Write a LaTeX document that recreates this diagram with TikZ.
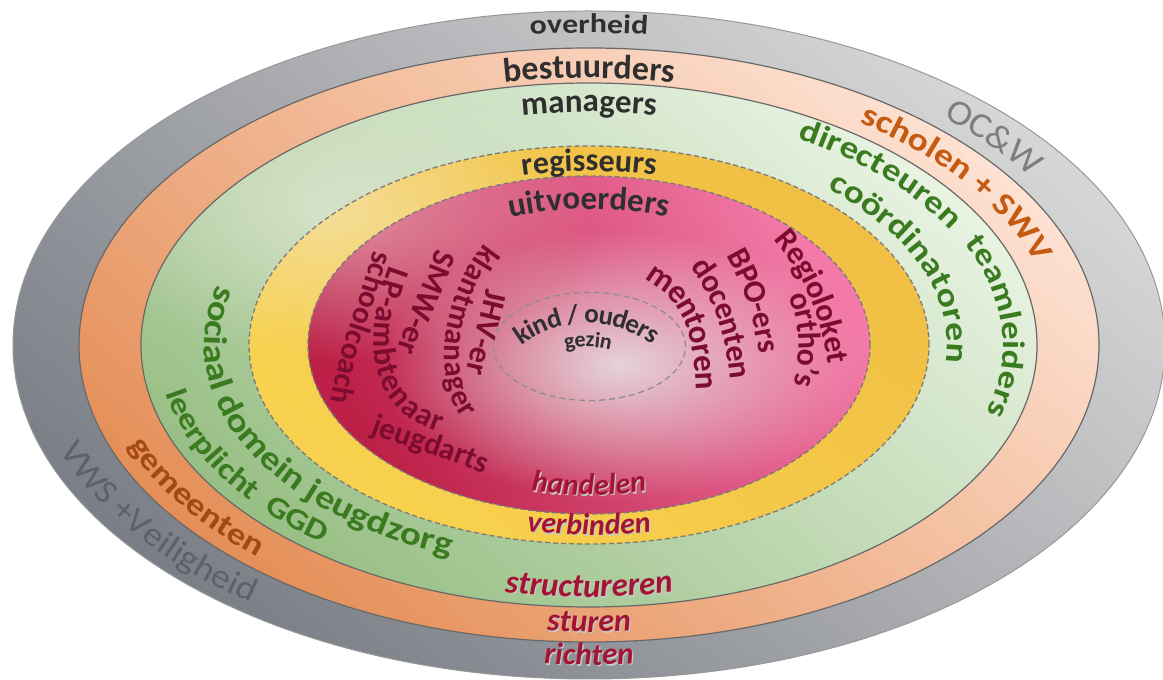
\documentclass[tikz,border=0pt]{standalone}
\usepackage{fontspec}
\usetikzlibrary{decorations.text,fadings}
\newfontfamily\fcarl{Carlito}
\newfontfamily\fcarlS{Carlito}[FakeStretch=1.18]
\newfontfamily\fcarlR{Carlito}[FakeStretch=1.1]
\newcommand\fTB[1]{\fcarl\bfseries\fontsize{#1}{#1}\selectfont}
\newcommand\fTS[1]{\fcarlS\bfseries\fontsize{#1}{#1}\selectfont}
\newcommand\fTR[1]{\fcarlR\fontsize{#1}{#1}\selectfont}
\newcommand\fTI[1]{\fcarl\bfseries\itshape\fontsize{#1}{#1}\selectfont}
\definecolor{cGrayTop}{HTML}{D6D6D6}
\definecolor{cGrayBot}{HTML}{7A7E86}
\definecolor{cOrTop}{HTML}{FDE1D2}
\definecolor{cOrBot}{HTML}{E58F58}
\definecolor{cGrTop}{HTML}{E8F3E2}
\definecolor{cGrBot}{HTML}{98BF85}
\definecolor{cYeTop}{HTML}{F0BF44}
\definecolor{cYeBot}{HTML}{F8D24E}
\definecolor{cPkTop}{HTML}{F37AA8}
\definecolor{cPkBot}{HTML}{BC2047}
\definecolor{cLine}{HTML}{686868}
\definecolor{cDash}{HTML}{7A7A7A}
\definecolor{cDark}{HTML}{2F2F2F}
\definecolor{cGrayA}{HTML}{7E7E7E}
\definecolor{cGrayB}{HTML}{5E6168}
\definecolor{cOrT}{HTML}{C55A11}
\definecolor{cOrT2}{HTML}{A44A10}
\definecolor{cGrT}{HTML}{3A7B20}
\definecolor{cMar}{HTML}{7B0C30}
\definecolor{cIt}{HTML}{A31434}
\definecolor{cHigh}{HTML}{E6E2E2}
\definecolor{cBeige}{HTML}{F4F0E6}
\tikzfading[name=blobfade, inner color=transparent!0, outer color=transparent!100]
% text on an ellipse arc around the common centre
\newcommand\eltext[7][]{\path[#1,decorate,decoration={text along path,#2,text={#7}}]
  ([shift={(#5:#3pt and #4pt)}]589,335) arc[start angle=#5,end angle=#6,x radius=#3pt,y radius=#4pt];}
\tikzset{
  ring/.style={draw=cLine, line width=1.2pt},
  dring/.style={draw=cDash, line width=1.3pt, dash pattern=on 5pt off 3pt},
  shadowtext/.style={shift={(1.2pt,-1.2pt)}}
}
\begin{document}
\begin{tikzpicture}[x=1pt,y=1pt]
\useasboundingbox (0,0) rectangle (1163,680);
% bands
\shade[top color=cGrayTop, bottom color=cGrayBot, shading angle=-40, draw=cGrayA!80, line width=1pt]
  (589,335) ellipse[x radius=576pt, y radius=334pt];
\shade[top color=cOrTop, bottom color=cOrBot, shading angle=-40]
  (589,335) ellipse[x radius=510pt, y radius=297pt];
\shade[top color=cGrTop, bottom color=cGrBot, shading angle=-40]
  (589,335) ellipse[x radius=448pt, y radius=262pt];
\shade[top color=cYeTop, bottom color=cYeBot, shading angle=-40]
  (589,335) ellipse[x radius=340pt, y radius=199pt];
\shade[top color=cPkTop, bottom color=cPkBot, shading angle=-60]
  (589,335) ellipse[x radius=281pt, y radius=169pt];
% highlights
\begin{scope}
  \clip (589,335) ellipse[x radius=448pt, y radius=262pt];
  \fill[cBeige, fill opacity=0.5, path fading=blobfade] (330,470) ellipse[x radius=260pt, y radius=150pt];
\end{scope}
\begin{scope}
  \clip (589,335) ellipse[x radius=281pt, y radius=169pt];
  \fill[cHigh, fill opacity=0.9, path fading=blobfade] (620,315) ellipse[x radius=240pt, y radius=135pt];
\end{scope}
% borders
\draw[ring] (589,335) ellipse[x radius=510pt, y radius=297pt];
\draw[ring] (589,335) ellipse[x radius=448pt, y radius=262pt];
\draw[dring] (589,335) ellipse[x radius=340pt, y radius=199pt];
\draw[dring] (589,335) ellipse[x radius=281pt, y radius=169pt];
\draw[dring, draw=cDash!85, dash pattern=on 6pt off 4pt] (589.5,333.5) ellipse[x radius=96pt, y radius=54pt];
% top labels
\eltext{text align=center,text color=cDark}{537}{312}{120}{60}{|\fTS{27}|overheid}
\eltext{text align=center,text color=cDark}{457}{267}{125}{55}{|\fTB{34}|bestuurders}
\eltext{text align=center,text color=cDark}{398}{233}{125}{55}{|\fTB{33}|managers}
\eltext{text align=center,text color=cDark}{291}{174}{130}{50}{|\fTB{32}|regisseurs}
\eltext{text align=center,text color=cDark}{226}{136}{130}{50}{|\fTB{33}|uitvoerders}
% bottom labels
\eltext[shadowtext]{text align=center,text color=black!22}{249}{150}{240}{300}{|\fTI{30}|handelen}
\eltext{text align=center,text color=cIt}{249}{150}{240}{300}{|\fTI{30}|handelen}
\eltext[shadowtext]{text align=center,text color=black!22}{322}{190}{240}{300}{|\fTI{30}|verbinden}
\eltext{text align=center,text color=cIt}{322}{190}{240}{300}{|\fTI{30}|verbinden}
\eltext[shadowtext]{text align=center,text color=black!22}{431}{252}{240}{300}{|\fTI{33}|structureren}
\eltext{text align=center,text color=cIt}{431}{252}{240}{300}{|\fTI{33}|structureren}
\eltext[shadowtext]{text align=center,text color=black!22}{492}{287}{250}{290}{|\fTI{32}|sturen}
\eltext{text align=center,text color=cIt}{492}{287}{250}{290}{|\fTI{32}|sturen}
\eltext[shadowtext]{text align=center,text color=black!22}{552}{320}{250}{290}{|\fTI{31}|richten}
\eltext{text align=center,text color=cIt}{552}{320}{250}{290}{|\fTI{31}|richten}
% right side labels
\eltext{text color=cGrayA}{529}{306}{48}{0}{|\fTR{35}|OC{\&}W}
\eltext{text color=cOrT}{468}{272}{54.7}{0}{|\fTS{32}|scholen + SWV}
\eltext{text color=cGrT}{411}{240}{59.5}{10}{|\fTS{31.5}|directeuren}
\eltext{text color=cGrT}{358}{209}{48.3}{-30}{|\fTS{32}|coördinatoren}
\eltext{text color=cGrT}{414}{242}{24.8}{-40}{|\fTS{31}|teamleiders}
% left side labels
\eltext{text color=cGrT}{385}{226}{164.6}{285}{|\fTS{33}|sociaal domein jeugdzorg}
\eltext{text color=cGrT}{431}{252}{191}{275}{|\fTS{30}|leerplicht{\ \ }GGD}
\eltext{text color=cOrT2}{492}{287}{200.5}{265}{|\fTS{31}|gemeenten}
\eltext{text color=cGrayB}{559}{324}{198.9}{265}{|\fTR{34}|VWS +Veiligheid}
% inner left
\path[decorate,decoration={text along path,raise=-8pt,text color=cMar,text={|\fTB{31}|schoolcoach}}]
  (381,428) .. controls (368,370) and (342,330) .. (336,250);
\path[decorate,decoration={text along path,raise=-8pt,text color=cMar,text={|\fTB{32}|LP-ambtenaar}}]
  (397,412) .. controls (368,335) and (375,265) .. (462,250) -- (501,243);
\path[decorate,decoration={text along path,raise=-8pt,text color=cMar,text={|\fTB{31}|jeugdarts}}]
  (373,254) .. controls (415,239) and (455,228) .. (520,200);
\path[decorate,decoration={text along path,raise=-8pt,text color=cMar,text={|\fTB{32}|SMW-er}}]
  (444,429) .. controls (428,385) and (410,350) .. (398,305);
\path[decorate,decoration={text along path,raise=-8pt,text color=cMar,text={|\fTB{31}|klantmanager}}]
  (491,432) .. controls (452,385) and (435,295) .. (478,255) -- (500,233);
\path[decorate,decoration={text along path,raise=-8pt,text color=cMar,text={|\fTB{32}|JHV-er}}]
  (494,390) .. controls (488,360) and (478,330) .. (468,280);
% inner right
\path[decorate,decoration={text along path,raise=-8pt,text color=cMar,text={|\fTB{32}|Regioloket}}]
  (780,445) .. controls (812,408) and (830,370) .. (838,300);
\path[decorate,decoration={text along path,raise=-8pt,text color=cMar,text={|\fTB{32}|ortho’s}}]
  (796,386) .. controls (810,355) and (810,320) .. (798,280);
\path[decorate,decoration={text along path,raise=-8pt,text color=cMar,text={|\fTB{32}|BPO-ers}}]
  (733,428) .. controls (752,395) and (765,360) .. (770,300);
\path[decorate,decoration={text along path,raise=-8pt,text color=cMar,text={|\fTB{32}|docenten}}]
  (697,418) .. controls (725,380) and (737,340) .. (740,280);
\path[decorate,decoration={text along path,raise=-8pt,text color=cMar,text={|\fTB{33}|mentoren}}]
  (649,407) .. controls (690,385) and (705,350) .. (704,270);
% centre
\path[decorate,decoration={text along path,text align=center,raise=-8pt,text color=cDark,text={|\fTB{27}|kind / ouders}}]
  ([shift={(160:115pt)}]587,250) arc[start angle=160,end angle=20,radius=115pt];
\path[decorate,decoration={text along path,text align=center,raise=-5pt,text color=cDark,text={|\fTB{22}|gezin}}]
  ([shift={(150:88pt)}]588,250) arc[start angle=150,end angle=30,radius=88pt];
\end{tikzpicture}
\end{document}
